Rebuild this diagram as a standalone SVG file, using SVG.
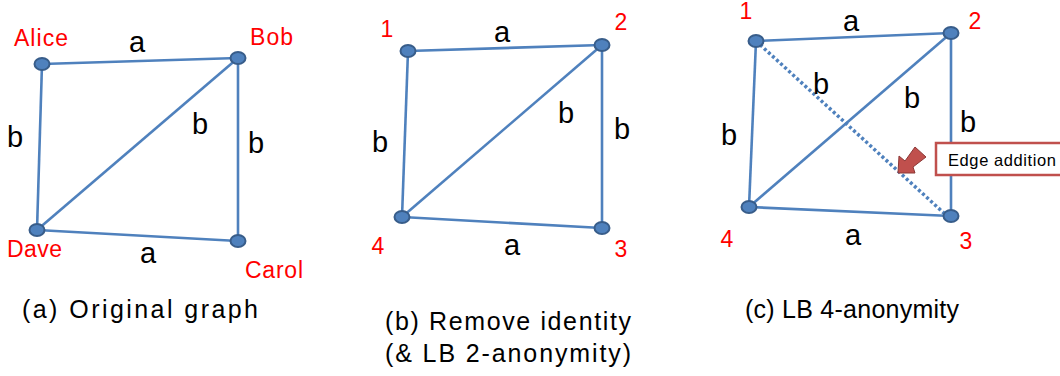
<svg xmlns="http://www.w3.org/2000/svg" width="1060" height="376" viewBox="0 0 1060 376">
<style>
.e{stroke:#4f81bd;stroke-width:2.6;fill:none}
.d{stroke:#4f81bd;stroke-width:3.5;fill:none;stroke-dasharray:3 2.5}
.n{fill:#4f81bd;stroke:#385d8a;stroke-width:2}
.r{font-family:"Liberation Sans",Arial,sans-serif;font-size:23px;fill:#ff0000}
.l{font-family:"Liberation Sans",Arial,sans-serif;font-size:29px;fill:#000}
.c{font-family:"Liberation Sans",Arial,sans-serif;font-size:25px;fill:#000;text-anchor:middle}
.m{text-anchor:middle}
</style>
<rect width="1060" height="376" fill="#fff"/>
<g id="connectors">
<line class="e" x1="42" y1="64" x2="238" y2="58"/>
<line class="e" x1="42" y1="64" x2="37" y2="230"/>
<line class="e" x1="238" y1="58" x2="37" y2="230"/>
<line class="e" x1="238" y1="58" x2="238" y2="241"/>
<line class="e" x1="37" y1="230" x2="238" y2="241"/>
<line class="e" x1="408" y1="51" x2="602" y2="45"/>
<line class="e" x1="408" y1="51" x2="402" y2="217"/>
<line class="e" x1="602" y1="45" x2="402" y2="217"/>
<line class="e" x1="602" y1="45" x2="602" y2="228"/>
<line class="e" x1="402" y1="217" x2="602" y2="228"/>
<line class="e" x1="756" y1="41" x2="951" y2="33"/>
<line class="e" x1="756" y1="41" x2="749" y2="207"/>
<line class="e" x1="951" y1="33" x2="749" y2="207"/>
<line class="e" x1="951" y1="33" x2="951" y2="216"/>
<line class="e" x1="749" y1="207" x2="951" y2="216"/>
<line class="d" x1="756" y1="41" x2="946" y2="215"/>
</g>
<g id="labels-a">
<text class="l m" x="137" y="52">a</text>
<text class="l m" x="15" y="147">b</text>
<text class="l m" x="200" y="134">b</text>
<text class="l m" x="256" y="153">b</text>
<text class="l m" x="148" y="263">a</text>
<text class="r" x="14" y="46" textLength="54">Alice</text>
<text class="r" x="250" y="45" textLength="43">Bob</text>
<text class="r" x="7" y="257" textLength="55">Dave</text>
<text class="r" x="245" y="278" textLength="58">Carol</text>
<text class="c" x="140" y="318" textLength="236">(a) Original graph</text>
</g>
<g id="node-alice"><ellipse class="n" cx="42" cy="64" rx="7.5" ry="6"/></g>
<g id="node-bob"><ellipse class="n" cx="238" cy="58" rx="7.5" ry="6"/></g>
<g id="node-dave"><ellipse class="n" cx="37" cy="230" rx="7.5" ry="6"/></g>
<g id="node-carol"><ellipse class="n" cx="238" cy="241" rx="7.5" ry="6"/></g>
<g id="labels-b">
<text class="l m" x="502" y="42">a</text>
<text class="l m" x="380" y="152">b</text>
<text class="l m" x="566" y="123">b</text>
<text class="l m" x="622" y="139">b</text>
<text class="l m" x="512" y="255">a</text>
<text class="r m" x="387" y="37">1</text>
<text class="r m" x="621" y="30">2</text>
<text class="r m" x="378" y="254">4</text>
<text class="r m" x="621" y="257">3</text>
<text class="c" x="508" y="330" textLength="246">(b) Remove identity</text>
<text class="c" x="508" y="362" textLength="246">(&amp; LB 2-anonymity)</text>
</g>
<g id="node-b1"><ellipse class="n" cx="408" cy="51" rx="7.5" ry="6"/></g>
<g id="node-b2"><ellipse class="n" cx="602" cy="45" rx="7.5" ry="6"/></g>
<g id="node-b3"><ellipse class="n" cx="602" cy="228" rx="7.5" ry="6"/></g>
<g id="node-b4"><ellipse class="n" cx="402" cy="217" rx="7.5" ry="6"/></g>
<g id="labels-c">
<text class="l m" x="851" y="31">a</text>
<text class="l m" x="821" y="94">b</text>
<text class="l m" x="912" y="108">b</text>
<text class="l m" x="968" y="132">b</text>
<text class="l m" x="729" y="145">b</text>
<text class="l m" x="853" y="245">a</text>
<text class="r m" x="746" y="19">1</text>
<text class="r m" x="975" y="29">2</text>
<text class="r m" x="727" y="247">4</text>
<text class="r m" x="966" y="249">3</text>
<text class="c" x="852" y="318" textLength="214">(c) LB 4-anonymity</text>
</g>
<g id="node-c1"><ellipse class="n" cx="756" cy="41" rx="7.5" ry="6"/></g>
<g id="node-c2"><ellipse class="n" cx="951" cy="33" rx="7.5" ry="6"/></g>
<g id="node-c3"><ellipse class="n" cx="951" cy="216" rx="7.5" ry="6"/></g>
<g id="node-c4"><ellipse class="n" cx="749" cy="207" rx="7.5" ry="6"/></g>
<g id="callout">
<rect x="936" y="143" width="130" height="32" fill="#fff" stroke="#c0504d" stroke-width="2.5"/>
<text x="948" y="166" font-family="'Liberation Sans',Arial,sans-serif" font-size="16.5" fill="#000" textLength="108">Edge addition</text>
<polygon points="898,173 899,156 905,161 915,147 926,157 913,167 915,173" fill="#c0504d" stroke="#8c3836" stroke-width="1"/>
</g>
</svg>
